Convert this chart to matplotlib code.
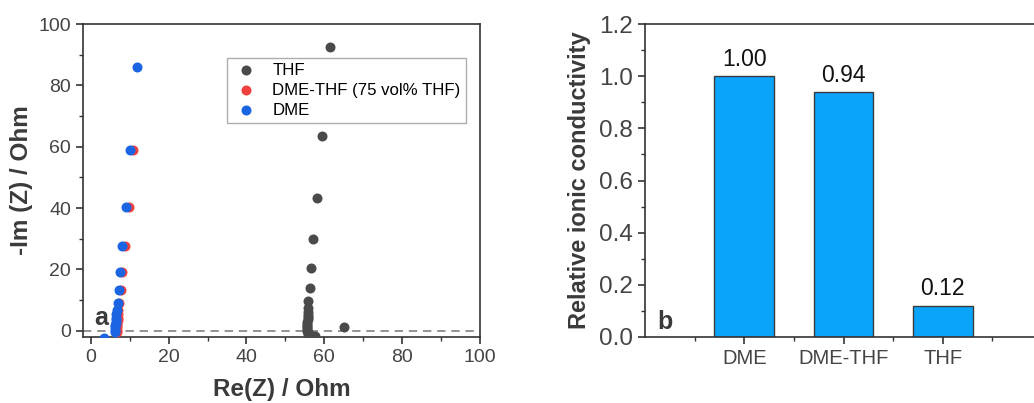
import matplotlib
matplotlib.use('Agg')
import matplotlib.pyplot as plt
import numpy as np
from matplotlib.ticker import MultipleLocator

plt.rcParams['font.family'] = ['Liberation Sans', 'DejaVu Sans']

# Nyquist data, Re(Z) and -Im(Z) in Ohm
thf_re = [61.4, 59.3, 58.1, 57.0, 56.5, 56.2, 55.9, 55.8, 55.8, 55.7, 55.7, 55.7, 55.6,
          55.6, 55.6, 55.6, 55.6, 55.6, 55.7, 55.8, 56.0, 56.4, 56.9, 57.5, 65.0]
thf_im = [92.5, 63.5, 43.4, 29.8, 20.4, 14.0, 9.6, 7.6, 6.3, 5.3, 4.5, 3.7, 3.0,
          2.3, 1.7, 1.1, 0.5, 0.0, -0.5, -0.9, -1.2, -1.4, -1.6, -1.8, 1.1]

mix_re = [10.9, 9.7, 8.8, 8.1, 7.7, 7.3, 7.1, 7.0, 6.9, 6.9, 6.8, 6.8, 6.8, 6.8, 6.8]
mix_im = [58.9, 40.4, 27.8, 19.1, 13.2, 9.0, 6.8, 5.4, 4.3, 3.4, 2.6, 1.8, 1.1, 0.4, -0.4]

dme_re = [11.8, 10.1, 9.0, 8.1, 7.5, 7.2, 6.9, 6.7, 6.6, 6.5, 6.4, 6.4, 6.3, 6.3, 6.2, 6.1, 3.3]
dme_im = [85.9, 58.9, 40.4, 27.8, 19.1, 13.2, 9.0, 6.8, 5.4, 4.3, 3.4, 2.6, 1.8, 1.1, 0.4, -0.4, -2.3]

# relative ionic conductivity
solvents = ['DME', 'DME-THF', 'THF']
rel_cond = [1.00, 0.94, 0.12]

txt = '#3a3a3a'
spine_c = '#333333'
msize = 52

fig = plt.figure(figsize=(10.34, 4.03), dpi=100)

# ---- panel a: Nyquist plot ----
ax1 = fig.add_axes([0.0803, 0.1638, 0.3839, 0.7766])
ax1.axhline(0, color='#808080', ls=(0, (5, 3.5)), lw=1.2, zorder=1)
ax1.scatter(thf_re, thf_im, s=msize, color='#4a4a4a', label='THF', zorder=3, lw=0)
ax1.scatter(mix_re, mix_im, s=msize, color='#f0403f', label='DME-THF (75 vol% THF)', zorder=3, lw=0)
ax1.scatter(dme_re, dme_im, s=msize, color='#1b64e2', label='DME', zorder=4, lw=0)
ax1.set_xlim(-2, 100)
ax1.set_ylim(-2, 100)
ax1.xaxis.set_major_locator(MultipleLocator(20))
ax1.xaxis.set_minor_locator(MultipleLocator(10))
ax1.yaxis.set_major_locator(MultipleLocator(20))
ax1.yaxis.set_minor_locator(MultipleLocator(10))
ax1.set_xlabel('Re(Z) / Ohm', fontsize=17.5, fontweight='bold', color=txt, labelpad=9)
ax1.set_ylabel('-Im (Z) / Ohm', fontsize=17.5, fontweight='bold', color=txt, labelpad=4)
ax1.text(1, 2, 'a', fontsize=18, fontweight='bold', color=txt)
leg = ax1.legend(loc='upper left', bbox_to_anchor=(0.363, 0.893), fontsize=12.1,
                 frameon=True, fancybox=False, edgecolor='#999999', handletextpad=0.8,
                 handlelength=1.6, borderpad=0.3, labelspacing=0.3, borderaxespad=0)
leg.get_frame().set_linewidth(1.0)

# ---- panel b: bar chart ----
ax2 = fig.add_axes([0.6238, 0.1638, 0.384, 0.7766])
xpos = np.arange(1, len(solvents) + 1)
ax2.bar(xpos, rel_cond, width=0.6, color='#0aa4fb', edgecolor='#3a3a3a', lw=1.0, zorder=2)
for xp, v in zip(xpos, rel_cond):
    ax2.text(xp, v + 0.02, f'{v:.2f}', ha='center', va='bottom', fontsize=16.5, color='#111111')
ax2.set_xlim(0, 4)
ax2.set_ylim(0, 1.2)
ax2.set_xticks(xpos)
ax2.set_xticklabels(solvents)
ax2.xaxis.set_minor_locator(MultipleLocator(1, offset=0.5))
ax2.yaxis.set_major_locator(MultipleLocator(0.2))
ax2.yaxis.set_minor_locator(MultipleLocator(0.1))
ax2.yaxis.set_major_formatter(matplotlib.ticker.FormatStrFormatter('%.1f'))
ax2.set_ylabel('Relative ionic conductivity', fontsize=17, fontweight='bold', color=txt, labelpad=6)
ax2.text(0.12, 0.03, 'b', fontsize=18, fontweight='bold', color=txt)
ax2.spines['right'].set_visible(False)

for ax, fs in ((ax1, 14), (ax2, 17.5)):
    for sp in ax.spines.values():
        sp.set_color(spine_c)
        sp.set_linewidth(1.2)
    ax.tick_params(which='major', direction='out', length=5, width=1.2, color=spine_c,
                   labelsize=fs, labelcolor='#444444')
    ax.tick_params(which='minor', direction='out', length=3, width=1.0, color=spine_c)
ax2.tick_params(axis='x', which='major', labelsize=14.5, pad=4)

fig.savefig('out.png', dpi=100)
